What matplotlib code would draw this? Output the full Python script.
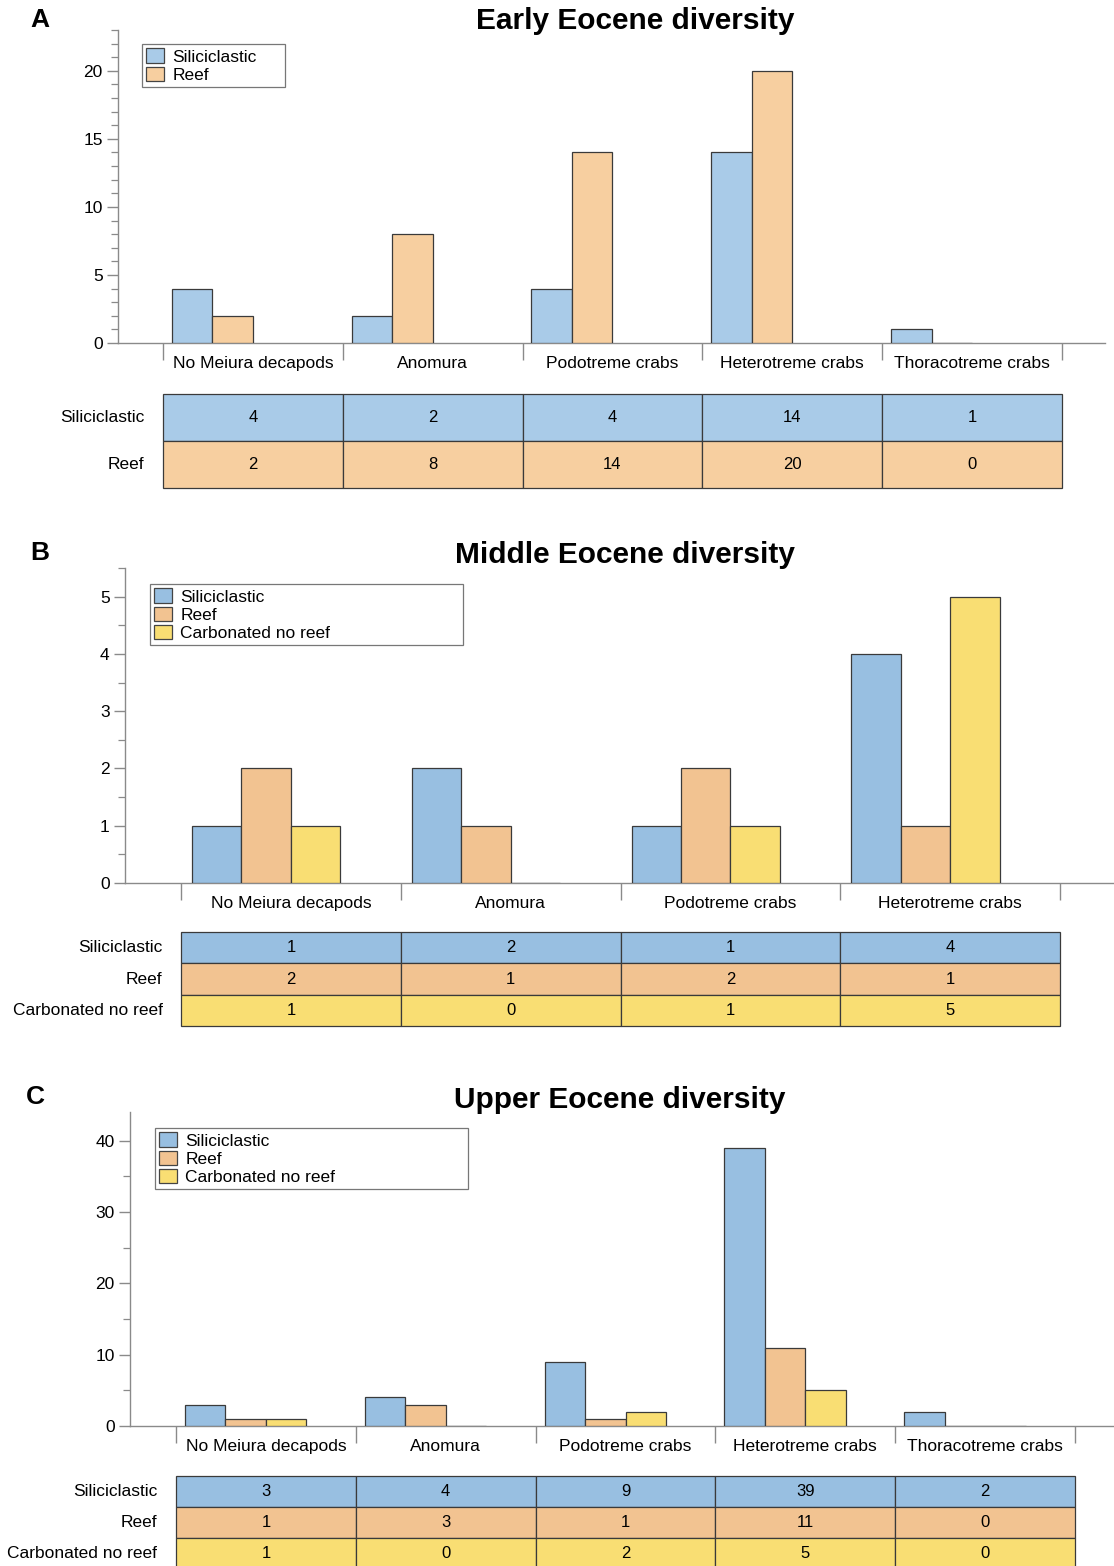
import matplotlib
matplotlib.use("Agg")
import matplotlib.pyplot as plt
from matplotlib.patches import Patch
from matplotlib.ticker import MultipleLocator, FixedLocator, NullFormatter

plt.rcParams['font.family'] = ['Liberation Sans', 'DejaVu Sans']

# ---- data ----
cats_a = ["No Meiura decapods", "Anomura", "Podotreme crabs", "Heterotreme crabs", "Thoracotreme crabs"]
sil_a = [4, 2, 4, 14, 1]
reef_a = [2, 8, 14, 20, 0]

cats_b = ["No Meiura decapods", "Anomura", "Podotreme crabs", "Heterotreme crabs"]
sil_b = [1, 2, 1, 4]
reef_b = [2, 1, 2, 1]
carb_b = [1, 0, 1, 5]

cats_c = ["No Meiura decapods", "Anomura", "Podotreme crabs", "Heterotreme crabs", "Thoracotreme crabs"]
sil_c = [3, 4, 9, 39, 2]
reef_c = [1, 3, 1, 11, 0]
carb_c = [1, 0, 2, 5, 0]

series_names = ["Siliciclastic", "Reef", "Carbonated no reef"]

W, H = 1114, 1566
fig = plt.figure(figsize=(W / 100, H / 100), dpi=100)


def rect(x0, y0, x1, y1):
    # pixel box (top-left origin) -> figure fraction
    return [x0 / W, 1 - y1 / H, (x1 - x0) / W, (y1 - y0) / H]


def draw_panel(box, tbox, cats, series, colors, ylim, major, minor, xlim,
               leg_box, letter, letter_xy, title, title_xy):
    ax = fig.add_axes(rect(*box))
    n = len(cats)
    bw = 0.225
    for k, vals in enumerate(series):
        xs = [i + 0.05 + k * bw for i in range(n)]
        ax.bar(xs, vals, width=bw, align='edge', color=colors[k],
               edgecolor='#3a3a3a', linewidth=0.9, zorder=3)
    ax.set_xlim(*xlim)
    ax.set_ylim(*ylim)
    for s in ['top', 'right']:
        ax.spines[s].set_visible(False)
    for s in ['left', 'bottom']:
        ax.spines[s].set_color('#8a8a8a')
        ax.spines[s].set_linewidth(1.0)
    ax.yaxis.set_major_locator(MultipleLocator(major))
    ax.yaxis.set_minor_locator(MultipleLocator(minor))
    ax.tick_params(axis='y', which='major', length=8, width=1.0, color='#8a8a8a',
                   labelsize=12.5, pad=3)
    ax.tick_params(axis='y', which='minor', length=5, width=0.9, color='#8a8a8a')
    # group boundaries as major x ticks, labels at group centres
    ax.xaxis.set_major_locator(FixedLocator(list(range(n + 1))))
    ax.xaxis.set_major_formatter(NullFormatter())
    ax.xaxis.set_minor_locator(FixedLocator([i + 0.5 for i in range(n)]))
    ax.set_xticklabels(cats, minor=True)
    ax.tick_params(axis='x', which='major', length=12, width=1.0, color='#8a8a8a')
    ax.tick_params(axis='x', which='minor', length=0, labelsize=12.5, pad=9.5)

    handles = [Patch(facecolor=colors[k], edgecolor='#444444', linewidth=0.9)
               for k in range(len(series))]
    leg = ax.legend(handles, series_names[:len(series)], loc='upper left',
                    bbox_to_anchor=(leg_box[0], leg_box[2], leg_box[1], 0),
                    mode='expand', borderaxespad=0, fancybox=False,
                    fontsize=12.5, handlelength=1.0, handleheight=0.9,
                    handletextpad=0.5, labelspacing=0.12, borderpad=0.25)
    leg.get_frame().set_edgecolor('#555555')
    leg.get_frame().set_linewidth(0.9)

    # table
    tax = fig.add_axes(rect(*tbox))
    tax.axis('off')
    cell_text = [[str(v) for v in vals] for vals in series]
    cell_col = [[colors[k]] * n for k in range(len(series))]
    tab = tax.table(cellText=cell_text, cellColours=cell_col, cellLoc='center',
                    bbox=[0, 0, 1, 1])
    tab.auto_set_font_size(False)
    tab.set_fontsize(12)
    for cell in tab.get_celld().values():
        cell.set_edgecolor('#3a3a3a')
        cell.set_linewidth(0.9)
    nr = len(series)
    for k in range(nr):
        tax.text(-0.021, 1 - (k + 0.5) / nr, series_names[k], ha='right',
                 va='center', fontsize=12.5, transform=tax.transAxes)

    fig.text(letter_xy[0] / W, 1 - letter_xy[1] / H, letter, fontsize=19,
             fontweight='bold', ha='center', va='center')
    fig.text(title_xy[0] / W, 1 - title_xy[1] / H, title, fontsize=21.5,
             fontweight='bold', ha='center', va='center')


blue_a, orange_a = '#a9cbe8', '#f7cfa0'
blue, orange, yellow = '#98bfe1', '#f2c391', '#f9de73'

draw_panel((118, 30, 1105, 343), (163, 394, 1062, 488), cats_a,
           [sil_a, reef_a], [blue_a, orange_a], (0, 23), 5, 1,
           (-0.25, 5.24), (0.0243, 0.145, 0.955),
           'A', (40, 20), 'Early Eocene diversity', (635, 21))

draw_panel((125, 568, 1114, 883), (181, 932, 1060, 1026), cats_b,
           [sil_b, reef_b, carb_b], [blue, orange, yellow], (0, 5.5), 1, 0.5,
           (-0.255, 4.245), (0.0253, 0.3165, 0.949),
           'B', (40, 553), 'Middle Eocene diversity', (625, 555))

draw_panel((130, 1112, 1114, 1426), (176, 1476, 1075, 1569), cats_c,
           [sil_c, reef_c, carb_c], [blue, orange, yellow], (0, 44), 10, 5,
           (-0.256, 5.217), (0.0254, 0.318, 0.949),
           'C', (35, 1097), 'Upper Eocene diversity', (620, 1100))

fig.savefig("out.png", dpi=100)
